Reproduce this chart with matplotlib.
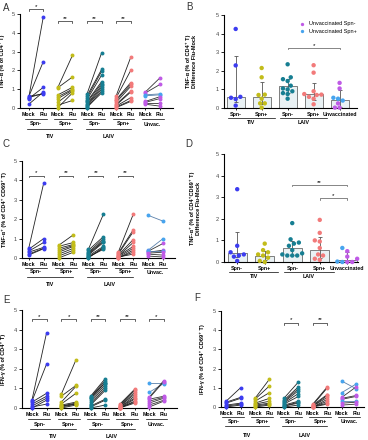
import matplotlib
matplotlib.use('Agg')
import matplotlib.pyplot as plt
from matplotlib.transforms import ScaledTranslation
from matplotlib.lines import Line2D
import numpy as np

plt.rcParams['font.family'] = ['Liberation Sans', 'DejaVu Sans']

# ---------------- data ----------------
groups = ['Spn-', 'Spn+', 'Spn-', 'Spn+', 'Unvac.']
bar_groups = ['Spn-', 'Spn+', 'Spn-', 'Spn+', 'Unvaccinated']
vaccines = ['TIV', 'LAIV']
conds = ['Mock', 'Flu']

# A: TNF-a (% of CD4+ T)
a_mock = [
    [0.55, 0.60, 0.50, 0.20, 0.55, 0.62],
    [1.10, 1.08, 0.70, 0.60, 0.50, 0.30, 0.15, 0.02],
    [0.75, 0.65, 0.55, 0.45, 0.35, 0.30, 0.20, 0.15, 0.10, 0.05, 0.02],
    [0.65, 0.55, 0.45, 0.40, 0.30, 0.20, 0.15, 0.10, 0.05, 0.02],
    [0.85, 0.80, 0.70, 0.65, 0.35, 0.30, 0.25, 0.20],
]
a_flu = [
    [4.85, 2.47, 1.10, 0.85, 0.78, 0.75],
    [2.80, 1.65, 1.10, 1.00, 0.95, 0.90, 0.40, 0.80],
    [2.93, 2.05, 1.95, 1.75, 1.40, 1.30, 1.20, 1.10, 1.00, 0.80, 0.90],
    [2.70, 2.00, 1.35, 1.25, 1.15, 0.90, 0.85, 0.55, 0.40, 0.35],
    [1.60, 1.25, 0.75, 0.70, 0.60, 0.50, 0.25, 0.10],
]
a_unvac_spn = ['-', '-', '+', '+', '-', '-', '-', '-']
a_sig = [('*', 5.25), ('**', 4.63), ('**', 4.63), ('**', 4.63), None]

# B: TNF-a difference Flu-Mock (CD4+ T)
b_vals = [
    [4.25, 2.29, 0.60, 0.55, 0.48, 0.13],
    [2.15, 1.65, 0.72, 0.70, 0.50, 0.25, 0.25, 0.02],
    [2.35, 1.65, 1.55, 1.45, 1.20, 1.05, 1.00, 0.90, 0.80, 0.75, 0.50],
    [2.30, 1.90, 0.90, 0.75, 0.72, 0.70, 0.60, 0.50, 0.20],
    [1.35, 1.05, 0.55, 0.50, 0.40, 0.25, 0.02, 0.02],
]
b_unvac_spn = ['-', '-', '+', '+', '+', '-', '-', '-']
b_bar = [0.58, 0.60, 1.20, 0.73, 0.45]
b_lo = [0.30, 0.20, 0.78, 0.45, 0.05]
b_hi = [2.77, 1.40, 1.55, 1.37, 0.95]
b_sig = [(2, 4, 3.22, '*')]

# C: TNF-a+ (% of CD4+ CD69+ T)
c_mock = [
    [0.50, 0.45, 0.35, 0.30, 0.20, 0.15],
    [0.65, 0.60, 0.50, 0.40, 0.30, 0.20, 0.10, 0.00],
    [0.45, 0.40, 0.30, 0.25, 0.20, 0.15, 0.10, 0.05, 0.05, 0.00],
    [0.30, 0.25, 0.20, 0.15, 0.10, 0.10, 0.05, 0.00, 0.02, 0.05],
    [2.20, 0.40, 0.35, 0.30, 0.35, 0.25, 0.20, 0.10],
]
c_flu = [
    [3.85, 1.00, 0.80, 0.55, 0.50, 0.48],
    [1.20, 0.80, 0.70, 0.65, 0.60, 0.50, 0.40, 0.30],
    [2.25, 1.10, 1.00, 0.90, 0.85, 0.80, 0.60, 0.50, 0.45, 0.55],
    [2.25, 1.45, 1.35, 0.95, 0.80, 0.60, 0.50, 0.40, 0.30, 0.20],
    [1.90, 1.00, 0.75, 0.40, 0.35, 0.30, 0.15, 0.05],
]
c_unvac_spn = ['+', '+', '-', '-', '+', '-', '-', '-']
c_sig = [('*', 4.25), ('**', 4.25), ('**', 4.25), ('**', 4.25), None]

# D: TNF-a+ difference Flu-Mock (CD4+ CD69+ T)
d_vals = [
    [3.37, 0.75, 0.45, 0.35, 0.30, 0.25, 0.05],
    [0.85, 0.55, 0.45, 0.35, 0.30, 0.20, 0.05, 0.00],
    [1.80, 1.05, 0.90, 0.85, 0.75, 0.55, 0.40, 0.35, 0.30, 0.30, 0.30],
    [1.95, 1.35, 1.00, 0.95, 0.65, 0.35, 0.30, 0.15, 0.10],
    [0.65, 0.50, 0.25, 0.15, 0.02, 0.00, 0.00, 0.00],
]
d_unvac_spn = ['+', '-', '-', '-', '+', '-', '-', '+']
d_bar = [0.40, 0.30, 0.65, 0.55, 0.10]
d_lo = [0.25, 0.10, 0.33, 0.20, 0.00]
d_hi = [1.40, 0.52, 0.95, 1.15, 0.45]
d_sig = [(2, 4, 3.56, '**'), (3, 4, 2.94, '*')]

# E: IFN-g (% of CD4+ T)
e_mock = [
    [0.40, 0.35, 0.30, 0.20, 0.10, 0.00, 0.05],
    [0.70, 0.60, 0.30, 0.20, 0.15, 0.10, 0.10, 0.05, 0.00],
    [0.60, 0.55, 0.50, 0.40, 0.30, 0.20, 0.15, 0.10, 0.05, 0.00, 0.50],
    [0.20, 0.15, 0.10, 0.10, 0.05, 0.05, 0.00, 0.00, 0.02, 0.00],
    [1.30, 0.80, 0.55, 0.50, 0.45, 0.35, 0.25, 0.15, 0.05],
]
e_flu = [
    [3.85, 2.25, 0.75, 0.60, 0.50, 0.40, 0.20],
    [2.45, 1.15, 1.10, 0.75, 0.30, 0.25, 0.20, 0.20, 0.15],
    [1.50, 1.40, 1.30, 1.20, 1.10, 1.00, 0.90, 0.45, 0.40, 0.15, 1.30],
    [0.95, 0.90, 0.80, 0.70, 0.60, 0.50, 0.45, 0.35, 0.30, 0.25],
    [1.30, 1.25, 1.40, 1.35, 0.60, 0.55, 0.50, 0.40, 0.35],
]
e_unvac_spn = ['+', '+', '-', '-', '-', '-', '-', '-', '-']
e_sig = [('*', 4.52), ('*', 4.52), ('**', 4.52), ('**', 4.52), ('*', 4.52)]

# F: IFN-g (% of CD4+ CD69+ T)
f_mock = [
    [0.30, 0.25, 0.20, 0.10, 0.05, 0.00],
    [0.45, 0.40, 0.30, 0.20, 0.15, 0.10, 0.05, 0.00],
    [0.45, 0.35, 0.30, 0.25, 0.20, 0.15, 0.10, 0.05, 0.05, 0.00],
    [0.15, 0.10, 0.10, 0.05, 0.05, 0.00, 0.00, 0.02, 0.00],
    [1.35, 0.75, 0.50, 0.45, 0.40, 0.30, 0.20, 0.10],
]
f_flu = [
    [1.00, 0.50, 0.45, 0.20, 0.15, 0.10],
    [1.45, 1.10, 0.75, 0.45, 0.30, 0.20, 0.15, 0.10],
    [1.30, 1.05, 0.95, 0.85, 0.70, 0.55, 0.30, 0.25, 0.20, 0.10],
    [1.05, 1.00, 0.65, 0.60, 0.50, 0.40, 0.30, 0.20, 0.15],
    [0.95, 1.20, 1.05, 0.60, 0.55, 0.30, 0.25, 0.15],
]
f_unvac_spn = ['+', '+', '-', '-', '-', '+', '-', '-']
f_sig = [None, None, ('*', 4.39), ('**', 4.39), None]

# ---------------- style ----------------
GCOL = ['#3c3cf0', '#c2bc1a', '#167e92', '#f27a7a']
UCOL = {'-': '#bf5ae6', '+': '#47a4ee'}
ULINE = {'-': '#333333', '+': '#5a80aa'}
W, H = 368, 440
fig = plt.figure(figsize=(W / 100, H / 100), dpi=100)
FS_T = 3.8
BOLD = 'bold'


def add_ax(l, r, t, b):
    return fig.add_axes([l / W, 1 - b / H, (r - l) / W, (b - t) / H])


def off(ax, dy_px):
    return ax.get_xaxis_transform() + ScaledTranslation(0, -dy_px / 100, fig.dpi_scale_trans)


def style_ax(ax, xlim, ylabel, labx):
    for s in ['top', 'right']:
        ax.spines[s].set_visible(False)
    for s in ['left', 'bottom']:
        ax.spines[s].set_linewidth(0.8)
    ax.set_ylim(0, 5)
    ax.set_xlim(*xlim)
    ax.set_yticks(range(6))
    ax.tick_params(axis='y', labelsize=4, length=2, width=0.6, pad=1.5, labelcolor='#444444')
    ax.tick_params(axis='x', labelsize=FS_T, length=1.5, width=0.6, pad=1.5)
    for lab in ax.get_xticklabels():
        lab.set_fontweight(BOLD)
    ax.set_ylabel(ylabel, fontsize=4, fontweight=BOLD, linespacing=1.3)
    ax.yaxis.set_label_coords(labx, 0.5)


def bracket(ax, x0, x1, y, txt):
    ax.plot([x0, x0, x1, x1], [y - 0.1, y, y, y - 0.1], color='#222222', lw=0.5, clip_on=False)
    ax.text((x0 + x1) / 2, y + 0.02, txt, ha='center', va='bottom', fontsize=4.5, clip_on=False)


def pair_panel(ax, mock, flu, uspn, sig, xlim, ylabel, labx, rows):
    dy_short, dy_grp, dy_long, dy_vac = rows
    for g in range(5):
        xm, xf = 2 * g, 2 * g + 1
        for i, (m, f) in enumerate(zip(mock[g], flu[g])):
            c = GCOL[g] if g < 4 else UCOL[uspn[i]]
            lc = '#222222' if g < 4 else ULINE[uspn[i]]
            ax.plot([xm, xf], [m, f], color=lc, lw=0.6, zorder=2)
            ax.scatter([xm, xf], [m, f], s=8, color=c, zorder=3, clip_on=False, linewidths=0)
        if sig[g] is not None:
            bracket(ax, xm, xf, sig[g][1], sig[g][0])
        ax.plot([xm - 0.25, xf + 0.25], [0, 0], transform=off(ax, dy_short), color='black', lw=0.5, clip_on=False)
        ax.text(xm + 0.5, 0, groups[g], transform=off(ax, dy_grp), ha='center', va='center',
                fontsize=FS_T, fontweight=BOLD)
    for k, v in enumerate(vaccines):
        x0 = 4 * k
        ax.plot([x0 - 0.1, x0 + 3.0], [0, 0], transform=off(ax, dy_long), color='black', lw=0.5, clip_on=False)
        ax.text(x0 + 1.45, 0, v, transform=off(ax, dy_vac), ha='center', va='center', fontsize=FS_T, fontweight=BOLD)
    ax.set_xticks(range(10))
    ax.set_xticklabels(conds * 5)
    style_ax(ax, xlim, ylabel, labx)


def swarm(vals, xscale, yscale, d=4.4):
    order = np.argsort(vals)
    placed = []
    offs = np.zeros(len(vals))
    cands = [0]
    for k in range(1, 10):
        cands += [-k * 0.06, k * 0.06]
    for idx in order:
        y = vals[idx]
        for c in cands:
            ok = all(np.hypot((c - pc) * xscale, (y - py) * yscale) >= d for pc, py in placed)
            if ok:
                offs[idx] = c
                placed.append((c, y))
                break
    return offs


def bar_panel(ax, vals, uspn, bar, lo, hi, sig, xlim, ylabel, labx, rows, legend=False):
    dy_line, dy_vac = rows
    x = np.arange(5)
    ax.bar(x, bar, width=0.7, color='#e9f1f4', edgecolor='#6a6a6a', lw=0.6, zorder=1)
    bar = np.array(bar)
    ax.errorbar(x, bar, yerr=[bar - np.array(lo), np.array(hi) - bar], fmt='none', ecolor='#555555',
                elinewidth=0.6, capsize=1.5, capthick=0.6, zorder=2)
    for g in range(5):
        v = np.array(vals[g])
        o = swarm(v, 26, 18.6)
        cols = [GCOL[g] if g < 4 else UCOL[uspn[i]] for i in range(len(v))]
        ax.scatter(g + o, v, s=10, c=cols, zorder=3, linewidths=0, clip_on=False)
    for (g0, g1, y, t) in sig:
        ax.plot([g0, g0, g1, g1], [y - 0.06, y, y, y - 0.06], color='#555555', lw=0.5)
        ax.text((g0 + g1) / 2, y + 0.02, t, ha='center', va='bottom', fontsize=4.5)
    for k, v in enumerate(vaccines):
        x0 = 2 * k
        ax.plot([x0 - 0.3, x0 + 1.5], [0, 0], transform=off(ax, dy_line), color='black', lw=0.5, clip_on=False)
        ax.text(x0 + 0.6, 0, v, transform=off(ax, dy_vac), ha='center', va='center', fontsize=FS_T, fontweight=BOLD)
    ax.set_xticks(x)
    ax.set_xticklabels(bar_groups)
    style_ax(ax, xlim, ylabel, labx)
    if legend:
        hs = [Line2D([], [], marker='o', ls='none', ms=2.4, color=UCOL['-'], mew=0),
              Line2D([], [], marker='o', ls='none', ms=2.4, color=UCOL['+'], mew=0)]
        ax.legend(hs, ['Unvaccinated Spn-', 'Unvaccinated Spn+'], loc='upper right', fontsize=4,
                  frameon=False, handletextpad=0.2, borderaxespad=0.1, labelspacing=0.5,
                  bbox_to_anchor=(1.02, 0.96))


axA = add_ax(20, 173, 14, 108)
pair_panel(axA, a_mock, a_flu, a_unvac_spn, a_sig, (-0.6, 9.9), 'TNF-α (% of CD4⁺ T)', -0.1, (11, 16, 21, 28))
axB = add_ax(224, 357, 15, 108)
bar_panel(axB, b_vals, b_unvac_spn, b_bar, b_lo, b_hi, b_sig, (-0.45, 4.67),
          'TNF-α (% of CD4⁺ T)\nDifference Flu-Mock', -0.2, (10, 14.5), legend=True)
axC = add_ax(22, 175, 161, 258)
pair_panel(axC, c_mock, c_flu, c_unvac_spn, c_sig, (-0.45, 9.8), 'TNF-α⁺ (% of CD4⁺ CD69⁺ T)', -0.1, (10, 14, 19, 27))
axD = add_ax(224, 358, 154, 262)
bar_panel(axD, d_vals, d_unvac_spn, d_bar, d_lo, d_hi, d_sig, (-0.48, 4.39),
          'TNF-α⁺ (% of CD4⁺CD69⁺ T)\nDifference Flu-Mock', -0.17, (9.5, 15))
axE = add_ax(22, 177, 310, 408)
pair_panel(axE, e_mock, e_flu, e_unvac_spn, e_sig, (-0.68, 9.9), 'IFN-γ (% of CD4⁺ T)', -0.105, (11, 16, 21, 28))
axF = add_ax(221, 364, 311, 407)
pair_panel(axF, f_mock, f_flu, f_unvac_spn, f_sig, (-0.35, 9.54), 'IFN-γ (% of CD4⁺ CD69⁺ T)', -0.11, (10, 14, 19, 28))

for lab, x, y in [('A', 6, 8), ('B', 189, 7), ('C', 6, 144), ('D', 189, 144), ('E', 6, 300), ('F', 197, 298)]:
    fig.text(x / W, 1 - y / H, lab, ha='center', va='center', fontsize=7, color='#333333')

fig.savefig('out.png', dpi=100)
